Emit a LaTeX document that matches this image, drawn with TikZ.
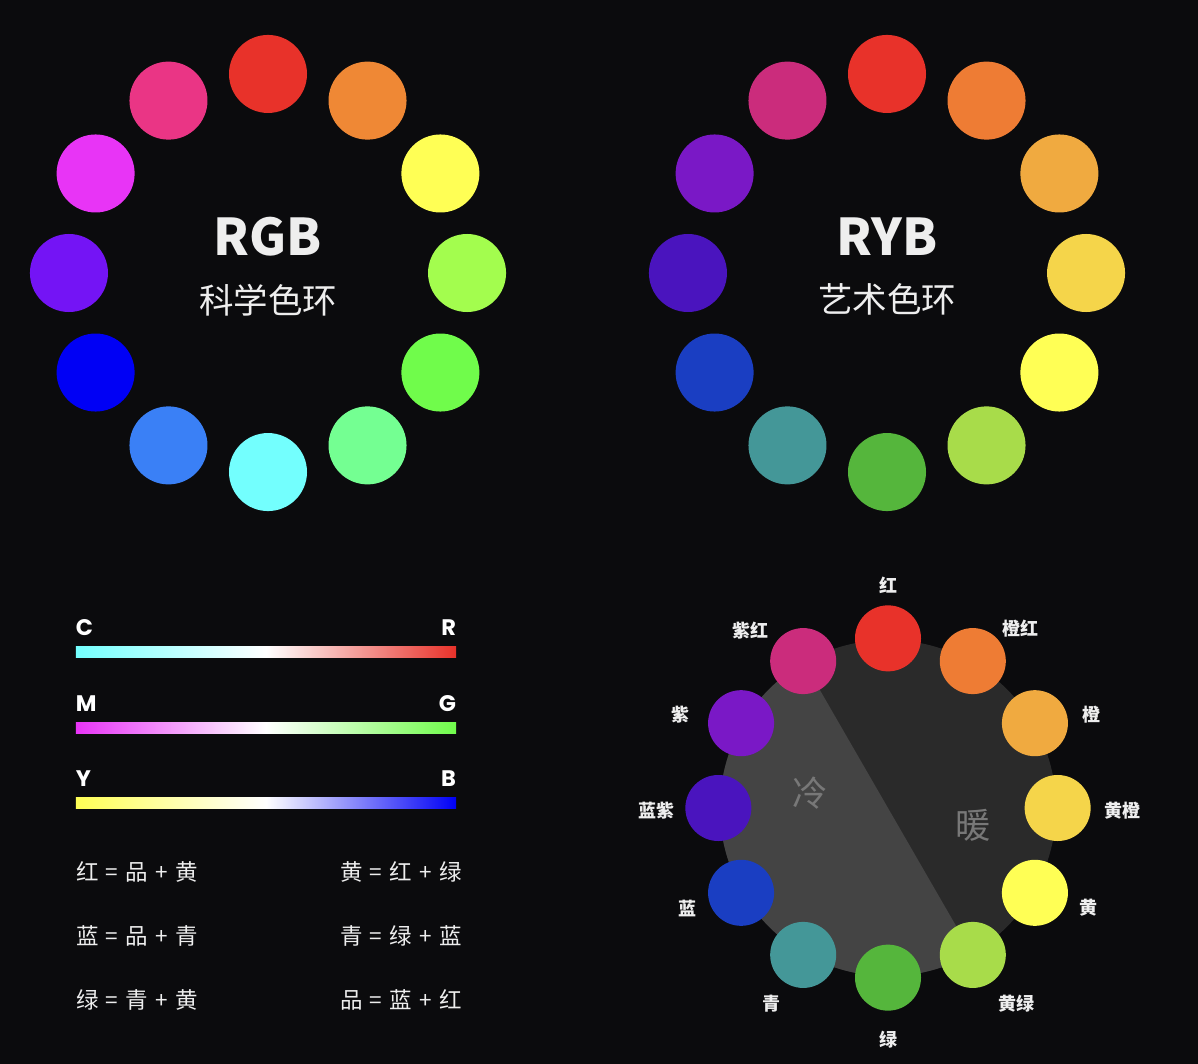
\documentclass[tikz,border=0pt]{standalone}
\usepackage{fontspec}
\setmainfont{Noto Sans CJK SC}
\newfontfamily\barfont{Poppins}
\usetikzlibrary{positioning, calc}

\definecolor{bgdark}{HTML}{0B0B0D}
\definecolor{txtwhite}{HTML}{EEEEEE}
\definecolor{coolgray}{HTML}{444444}
\definecolor{warmgray}{HTML}{2A2A2A}
\definecolor{halfgray}{HTML}{787878}
% RGB wheel, clockwise from the top
\definecolor{rgbA}{HTML}{E8322A}
\definecolor{rgbB}{HTML}{EF8835}
\definecolor{rgbC}{HTML}{FFFF55}
\definecolor{rgbD}{HTML}{A3FD4E}
\definecolor{rgbE}{HTML}{70FC4B}
\definecolor{rgbF}{HTML}{74FF92}
\definecolor{rgbG}{HTML}{73FFFE}
\definecolor{rgbH}{HTML}{3A80F6}
\definecolor{rgbI}{HTML}{0000F5}
\definecolor{rgbJ}{HTML}{7414F5}
\definecolor{rgbK}{HTML}{E834F6}
\definecolor{rgbL}{HTML}{EA3585}
% RYB wheel, clockwise from the top
\definecolor{rybA}{HTML}{E8322A}
\definecolor{rybB}{HTML}{EE7C34}
\definecolor{rybC}{HTML}{F0AA40}
\definecolor{rybD}{HTML}{F5D54A}
\definecolor{rybE}{HTML}{FFFF55}
\definecolor{rybF}{HTML}{A8DC4A}
\definecolor{rybG}{HTML}{55B63C}
\definecolor{rybH}{HTML}{449798}
\definecolor{rybI}{HTML}{1A3EC2}
\definecolor{rybJ}{HTML}{4A14BE}
\definecolor{rybK}{HTML}{7A18C6}
\definecolor{rybL}{HTML}{CB2C7C}

\newcommand\eqsp{\hspace{0.32em}}

\tikzset{
  dot/.style={circle, fill=#1, inner sep=0pt, minimum size=1.95cm},
  smalldot/.style={circle, fill=#1, inner sep=0pt, minimum size=1.65cm},
  title/.style={text=txtwhite, inner sep=0pt,
    font=\bfseries\fontsize{36}{36}\selectfont},
  subtitle/.style={text=txtwhite, inner sep=0pt,
    font=\fontsize{24.5}{24.5}\selectfont},
  bar/.style={rectangle, inner sep=0pt,
    minimum width=9.5cm, minimum height=0.29cm},
  letter/.style={text=white, inner sep=0pt,
    font=\barfont\bfseries\fontsize{16}{16}\selectfont},
  eq/.style={text=txtwhite, inner sep=0pt, anchor=west,
    font=\fontsize{16}{16}\selectfont},
  tag/.style={text=txtwhite, inner sep=0pt,
    font=\bfseries\fontsize{12.8}{12.8}\selectfont},
  temp/.style={text=halfgray, inner sep=0pt,
    font=\fontsize{25}{25}\selectfont}
}

\begin{document}
\begin{tikzpicture}[x=0.025cm, y=-0.025cm]
  \path[fill=bgdark] (0,0) rectangle (1198,1064);

  \coordinate (rgbc) at (268,273);
  \coordinate (rybc) at (887,273);
  \coordinate (wheelc) at (888,808);

  % two big wheels
  \foreach \c [count=\i] in {rgbA,rgbB,rgbC,rgbD,rgbE,rgbF,rgbG,rgbH,rgbI,rgbJ,rgbK,rgbL}
    \node[dot=\c] (rgb\i) at ($(rgbc)+({90-30*(\i-1)}:4.975cm)$) {};
  \foreach \c [count=\i] in {rybA,rybB,rybC,rybD,rybE,rybF,rybG,rybH,rybI,rybJ,rybK,rybL}
    \node[dot=\c] (ryb\i) at ($(rybc)+({90-30*(\i-1)}:4.975cm)$) {};

  \node[title] (rgbtitle) at (268,237) {RGB};
  \node[subtitle, below=19pt of rgbtitle] (rgbsub) {科学色环};
  \node[title] (rybtitle) at (887,237) {RYB};
  \node[subtitle, below=19pt of rybtitle] (rybsub) {艺术色环};

  % gradient bars
  \node[bar, left color=rgbG, right color=rgbA, middle color=white] (crbar) at (266,652) {};
  \node[bar, left color=rgbK, right color=rgbE, middle color=white] (mgbar) at (266,728) {};
  \node[bar, left color=rgbC, right color=rgbI, middle color=white] (ybbar) at (266,803) {};
  \node[letter, above right=7pt and 0pt of crbar.north west] (cC) {C};
  \node[letter, above left=7pt and 0pt of crbar.north east] (cR) {R};
  \node[letter, above right=7pt and 0pt of mgbar.north west] (cM) {M};
  \node[letter, above left=7pt and 0pt of mgbar.north east] (cG) {G};
  \node[letter, above right=7pt and 0pt of ybbar.north west] (cY) {Y};
  \node[letter, above left=7pt and 0pt of ybbar.north east] (cB) {B};

  % mixing rules
  \node[eq] (eq1) at (76,872) {红\eqsp=\eqsp{}品\eqsp+\eqsp{}黄};
  \node[eq] (eq2) at (76,936) {蓝\eqsp=\eqsp{}品\eqsp+\eqsp{}青};
  \node[eq] (eq3) at (76,1000) {绿\eqsp=\eqsp{}青\eqsp+\eqsp{}黄};
  \node[eq] (eq4) at (340,872) {黄\eqsp=\eqsp{}红\eqsp+\eqsp{}绿};
  \node[eq] (eq5) at (340,936) {青\eqsp=\eqsp{}绿\eqsp+\eqsp{}蓝};
  \node[eq] (eq6) at (340,1000) {品\eqsp=\eqsp{}蓝\eqsp+\eqsp{}红};

  % warm / cool wheel
  \fill[warmgray] (wheelc) circle[radius=4.2cm];
  \fill[coolgray] (wheelc) ++(120:4.2cm) arc[start angle=120, end angle=300, radius=4.2cm] -- cycle;
  \node[temp] (cool) at (810,793) {冷};
  \node[temp] (warm) at (973,825) {暖};
  \foreach \c [count=\i] in {rybA,rybB,rybC,rybD,rybE,rybF,rybG,rybH,rybI,rybJ,rybK,rybL}
    \node[smalldot=\c] (hue\i) at ($(wheelc)+({90-30*(\i-1)}:4.24cm)$) {};

  \node[tag] (tred) at (888,585) {红};
  \node[tag] (tredorange) at (1020,629) {橙红};
  \node[tag] (torange) at (1091,715) {橙};
  \node[tag] (tyelorange) at (1122,811) {黄橙};
  \node[tag] (tyellow) at (1088,908) {黄};
  \node[tag] (tyelgreen) at (1016,1004) {黄绿};
  \node[tag] (tgreen) at (888,1040) {绿};
  \node[tag] (tcyan) at (771,1004) {青};
  \node[tag] (tblue) at (687,908) {蓝};
  \node[tag] (tblueviolet) at (656,811) {蓝紫};
  \node[tag] (tviolet) at (680,715) {紫};
  \node[tag] (tredviolet) at (750,631) {紫红};
\end{tikzpicture}
\end{document}
